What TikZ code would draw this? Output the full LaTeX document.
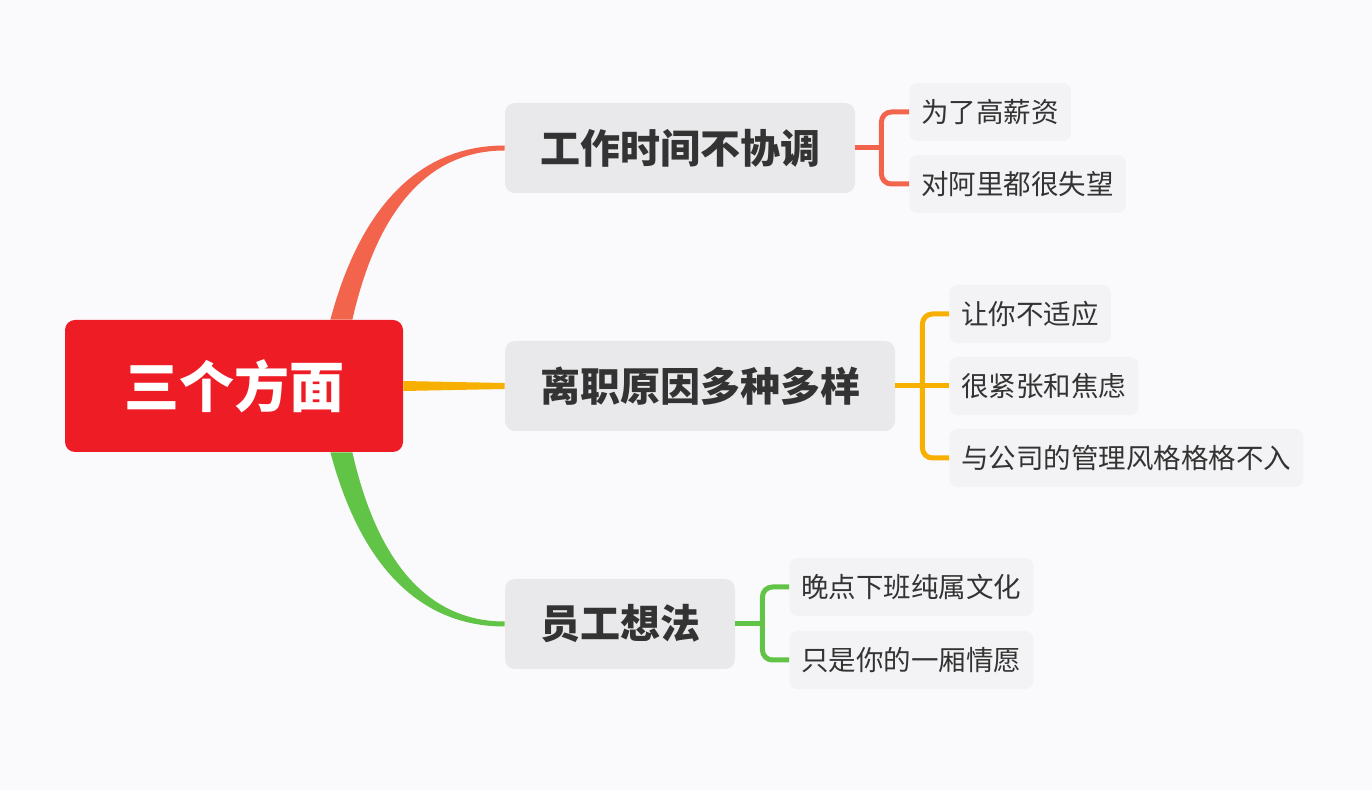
\documentclass[tikz,border=0pt]{standalone}
\usepackage{fontspec}
\setmainfont{Noto Sans CJK SC}
\usepackage{xcolor}
\usepackage{tikz}
\usetikzlibrary{calc}

\definecolor{bgcol}{HTML}{FAFAFC}
\definecolor{rootred}{HTML}{EE1D25}
\definecolor{topicgray}{HTML}{E9E9EB}
\definecolor{leafgray}{HTML}{F3F3F5}
\definecolor{textdark}{HTML}{333333}
\definecolor{linered}{HTML}{F2644B}
\definecolor{lineamber}{HTML}{F7B000}
\definecolor{linegreen}{HTML}{62C446}

\begin{document}
\begin{tikzpicture}[x=0.5pt, y=-0.5pt,
  rootbox/.style={fill=rootred, rounded corners=5pt, minimum width=169pt, minimum height=66pt, text=white, font=\fontsize{27.5}{30}\selectfont\bfseries},
  topicbox/.style={fill=topicgray, rounded corners=5pt, inner xsep=17.5pt, minimum height=45pt, text=textdark, font=\fontsize{20}{22}\selectfont\bfseries},
  leafbox/.style={fill=leafgray, rounded corners=4pt, inner xsep=6pt, minimum height=29pt, text=textdark, font=\fontsize{13.75}{15}\selectfont, anchor=west},
  fork/.style={line width=2.5pt, rounded corners=5pt}]
\fill[bgcol] (0,0) rectangle (1372,790);

\node[rootbox] (root) at (234,386) {三个方面};
\node[topicbox] (work) at (680,148) {工作时间不协调};
\node[topicbox] (quit) at (700,386) {离职原因多种多样};
\node[topicbox] (staff) at (620,624) {员工想法};

\node[leafbox] (pay) at (909,112) {为了高薪资};
\node[leafbox] (ali) at (909,184) {对阿里都很失望};
\node[leafbox] (unfit) at (949,314) {让你不适应};
\node[leafbox] (nerve) at (949,386) {很紧张和焦虑};
\node[leafbox] (style) at (949,458) {与公司的管理风格格格不入};
\node[leafbox] (late) at (789,587) {晚点下班纯属文化};
\node[leafbox] (wish) at (789,660) {只是你的一厢情愿};

% main branches
\fill[linered] ($(root.north east)+(-73,0)$) .. controls +(32,-120) and +(-80,0) .. ($(work.west)+(0,-2.5)$)
  -- ($(work.west)+(0,2.5)$) .. controls +(-73,0) and +(26,-115) .. ($(root.north east)+(-51,0)$) -- cycle;
\fill[lineamber] ($(root.east)+(0,-5)$) -- ($(quit.west)+(0,-3)$) -- ($(quit.west)+(0,3)$) -- ($(root.east)+(0,5)$) -- cycle;
\fill[linegreen] ($(root.south east)+(-73,0)$) .. controls +(32,120) and +(-80,0) .. ($(staff.west)+(0,2.5)$)
  -- ($(staff.west)+(0,-2.5)$) .. controls +(-73,0) and +(26,115) .. ($(root.south east)+(-51,0)$) -- cycle;

% forks to the leaves
\draw[fork, linered] (work.east) -- ++(26,0) coordinate (f1);
\draw[fork, linered] (f1) |- (pay.west);
\draw[fork, linered] (f1) |- (ali.west);
\draw[fork, lineamber] (quit.east) -- ++(27,0) coordinate (f2);
\draw[fork, lineamber] (f2) |- (unfit.west);
\draw[fork, lineamber] (quit.east) -- (nerve.west);
\draw[fork, lineamber] (f2) |- (style.west);
\draw[fork, linegreen] (staff.east) -- ++(27,0) coordinate (f3);
\draw[fork, linegreen] (f3) |- (late.west);
\draw[fork, linegreen] (f3) |- (wish.west);
\end{tikzpicture}
\end{document}
